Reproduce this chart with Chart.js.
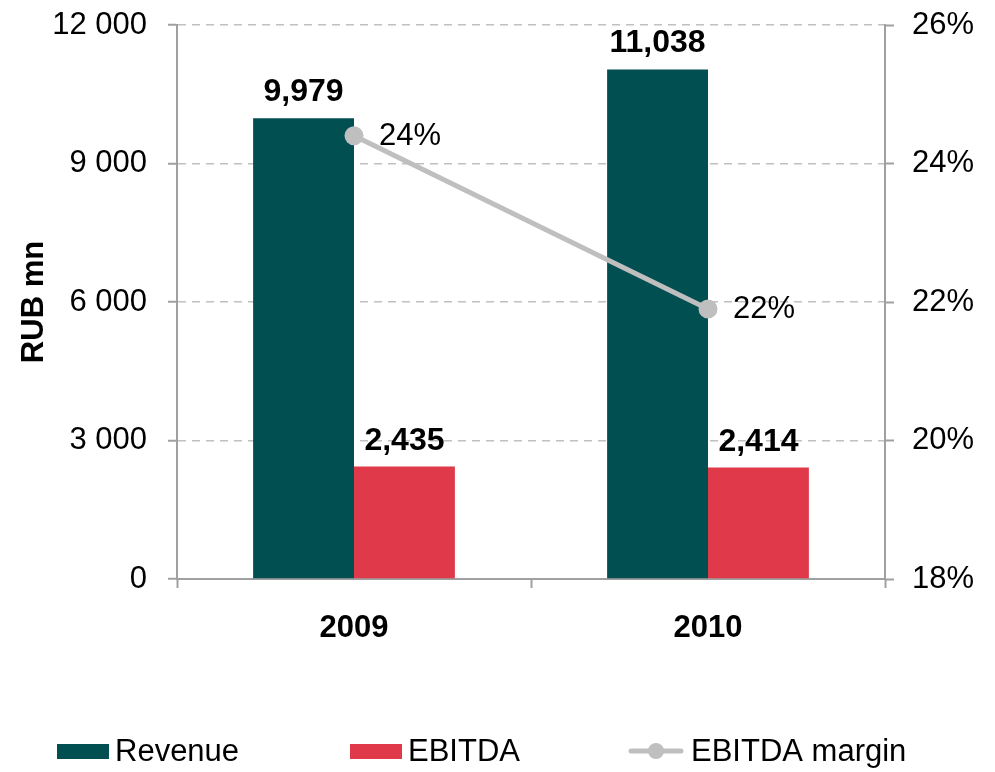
<!DOCTYPE html>
<html>
<head>
<meta charset="utf-8">
<script src="https://cdn.jsdelivr.net/npm/chart.js@4/dist/chart.umd.min.js"></script>
<style>
  body { margin: 0; background: #fff; }
  canvas { display: block; }
</style>
</head>
<body>
<canvas id="chart" width="995" height="772"></canvas>
<script>
// data
const years = ['2009', '2010'];
const revenue = [9979, 11038];
const ebitda = [2435, 2414];
const margin = [24.4, 21.9];
const marginLabels = ['24%', '22%'];
const leftTicks = [0, 3000, 6000, 9000, 12000];
const rightTicks = [18, 20, 22, 24, 26];

const FONT = '"Liberation Sans", Arial, sans-serif';
const AXIS = '#a0a0a0';

function spaced(v) {
  return String(v).replace(/\B(?=(\d{3})+(?!\d))/g, ' ');
}
function commas(v) {
  return String(v).replace(/\B(?=(\d{3})+(?!\d))/g, ',');
}

// value labels above bars and next to line points
const valueLabels = {
  id: 'valueLabels',
  afterDatasetsDraw(chart) {
    const ctx = chart.ctx;
    ctx.save();
    ctx.fillStyle = '#000';
    chart.data.datasets.forEach((ds, di) => {
      const meta = chart.getDatasetMeta(di);
      meta.data.forEach((el, i) => {
        if (ds.type === 'line') {
          ctx.font = '31px ' + FONT;
          ctx.textAlign = 'left';
          ctx.textBaseline = 'middle';
          ctx.fillText(marginLabels[i], el.x + 25, el.y + 1);
        } else {
          ctx.font = 'bold 32px ' + FONT;
          ctx.textAlign = 'center';
          ctx.textBaseline = 'alphabetic';
          ctx.fillText(commas(ds.data[i]), el.x, el.y - 17);
        }
      });
    });
    ctx.restore();
  }
};

// bottom legend, laid out like the original
const bottomLegend = {
  id: 'bottomLegend',
  afterDraw(chart) {
    const ctx = chart.ctx;
    const cy = 751;
    const starts = [57, 350, 629];
    ctx.save();
    ctx.font = '31px ' + FONT;
    ctx.textBaseline = 'middle';
    ctx.textAlign = 'left';
    chart.data.datasets.forEach((ds, i) => {
      const x = starts[i];
      if (ds.type === 'line') {
        ctx.strokeStyle = ds.borderColor;
        ctx.lineWidth = 5;
        ctx.lineCap = 'round';
        ctx.beginPath();
        ctx.moveTo(x + 2, cy);
        ctx.lineTo(x + 52, cy);
        ctx.stroke();
        ctx.fillStyle = ds.pointBackgroundColor;
        ctx.beginPath();
        ctx.arc(x + 27, cy, 8, 0, Math.PI * 2);
        ctx.fill();
        ctx.fillStyle = '#000';
        ctx.fillText(ds.label, x + 62, cy + 1);
      } else {
        ctx.fillStyle = ds.backgroundColor;
        ctx.fillRect(x, cy - 7, 52, 15);
        ctx.fillStyle = '#000';
        ctx.fillText(ds.label, x + 58, cy + 1);
      }
    });
    ctx.restore();
  }
};

function fitVertical(width) {
  return scale => {
    scale.width = width;
    scale.paddingTop = 0;
    scale.paddingBottom = 0;
  };
}

new Chart(document.getElementById('chart'), {
  data: {
    labels: years,
    datasets: [
      {
        type: 'bar',
        label: 'Revenue',
        data: revenue,
        yAxisID: 'y',
        backgroundColor: '#024f52',
        categoryPercentage: 0.57,
        barPercentage: 1,
        order: 1
      },
      {
        type: 'bar',
        label: 'EBITDA',
        data: ebitda,
        yAxisID: 'y',
        backgroundColor: '#df394a',
        categoryPercentage: 0.57,
        barPercentage: 1,
        order: 1
      },
      {
        type: 'line',
        label: 'EBITDA margin',
        data: margin,
        yAxisID: 'y2',
        borderColor: '#bfbfbf',
        borderWidth: 5,
        pointRadius: 9.5,
        pointBackgroundColor: '#bfbfbf',
        pointBorderColor: '#bfbfbf',
        pointBorderWidth: 0,
        order: 0
      }
    ]
  },
  options: {
    responsive: false,
    animation: false,
    layout: { padding: { top: 25, left: 0, right: 0, bottom: 113 } },
    plugins: {
      legend: { display: false },
      tooltip: { enabled: false }
    },
    scales: {
      x: {
        type: 'category',
        offset: true,
        afterFit(scale) { scale.height = 80; scale.paddingLeft = 0; scale.paddingRight = 0; },
        grid: {
          offset: true,
          drawOnChartArea: false,
          tickLength: 9,
          tickColor: AXIS,
          tickWidth: 2
        },
        border: { color: AXIS, width: 2 },
        ticks: {
          color: '#000',
          padding: 22,
          font: { family: FONT, size: 31, weight: 'bold' }
        }
      },
      y: {
        position: 'left',
        min: 0,
        max: 12000,
        afterFit: fitVertical(177),
        afterBuildTicks(scale) { scale.ticks = leftTicks.map(v => ({ value: v })); },
        grid: {
          color: '#c0c0c0',
          lineWidth: 1.5,
          tickLength: 9,
          tickColor: AXIS,
          tickWidth: 2
        },
        border: { color: AXIS, width: 2, dash: [8, 6] },
        title: {
          display: true,
          text: 'RUB mn',
          color: '#000',
          padding: { top: 16, bottom: 0 },
          font: { family: FONT, size: 31, weight: 'bold' }
        },
        ticks: {
          color: '#000',
          padding: 21,
          font: { family: FONT, size: 31 },
          callback: v => spaced(v)
        }
      },
      y2: {
        position: 'right',
        min: 18,
        max: 26,
        afterFit: fitVertical(110),
        afterBuildTicks(scale) { scale.ticks = rightTicks.map(v => ({ value: v })); },
        grid: {
          drawOnChartArea: false,
          tickLength: 9,
          tickColor: AXIS,
          tickWidth: 2
        },
        border: { color: AXIS, width: 2 },
        ticks: {
          color: '#000',
          padding: 18,
          font: { family: FONT, size: 31 },
          callback: v => v + '%'
        }
      }
    }
  },
  plugins: [valueLabels, bottomLegend]
});
</script>
</body>
</html>
